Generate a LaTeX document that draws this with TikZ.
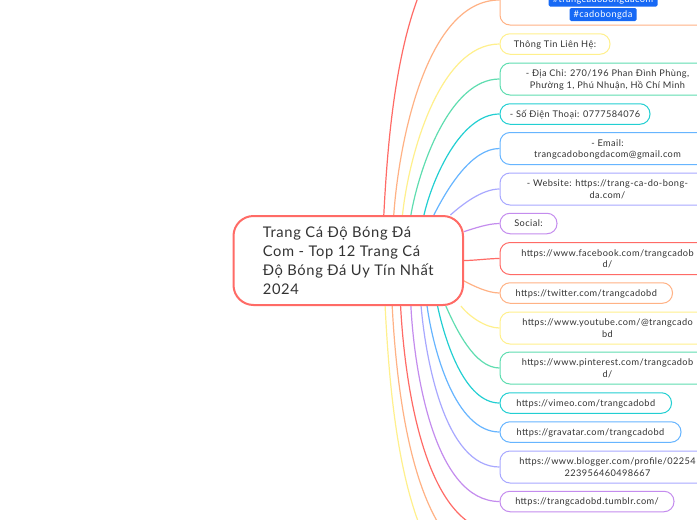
\documentclass[tikz,border=0pt]{standalone}
\usepackage{fontspec}
\setmainfont[LetterSpace=4.5]{Lato}
\usetikzlibrary{backgrounds}
\definecolor{mapred}{HTML}{FF6B66}
\definecolor{maporange}{HTML}{FFB285}
\definecolor{mapyellow}{HTML}{FFF08C}
\definecolor{mapgreen}{HTML}{5FDDB0}
\definecolor{mapteal}{HTML}{22CFD2}
\definecolor{mapblue}{HTML}{66B5FF}
\definecolor{mapviolet}{HTML}{A8A8FF}
\definecolor{mappurple}{HTML}{C48CEE}
\definecolor{tagblue}{HTML}{1769F5}
\definecolor{maptext}{HTML}{333333}
\tikzset{
  topicbox/.style={draw, anchor=west, fill=white, rounded corners=10pt, line width=1pt, align=center, inner sep=0pt, minimum height=20.5pt, text depth=0pt, text=maptext, font=\fontsize{9.2pt}{11.4pt}\selectfont},
  widebox/.style={topicbox, minimum width=215pt, minimum height=32pt},
  tagbox/.style={fill=tagblue, text=white, rounded corners=1.5pt, inner sep=0pt, minimum height=13pt, font=\fontsize{9.2pt}{11pt}\selectfont},
  branch/.style={line width=1.2pt}
}
\begin{document}
\begin{tikzpicture}[x=1pt, y=-1pt]
    \clip (0,0) rectangle (697,520);
    \node[draw=mapred, fill=white, rounded corners=20pt, line width=2pt, minimum width=229.5pt, minimum height=89pt, inner sep=0pt, text depth=0pt, text=maptext, align=left, font=\fontsize{14.7pt}{19pt}\selectfont] (root) at (348.25,260.5) {Trang Cá Độ Bóng Đá\\Com - Top 12 Trang Cá\\Độ Bóng Đá Uy Tín Nhất\\2024};
    \node[widebox, draw=maporange, minimum height=50pt] (hashbox) at (499.5,0) {};
    \node[tagbox, minimum width=109pt] (tag1) at (603,0) {\#trangcadobongdacom};
    \node[tagbox, minimum width=67pt] (tag2) at (603,14.5) {\#cadobongda};
    \node[topicbox, draw=mapyellow, minimum width=110pt] (info) at (499.5,44) {Thông Tin Liên Hệ:};
    \node[widebox, draw=mapgreen] (addr) at (499.5,79) {- Địa Chỉ: 270/196 Phan Đình Phùng,\\Phường 1, Phú Nhuận, Hồ Chí Minh};
    \node[topicbox, draw=mapteal, minimum width=150pt] (phone) at (499.5,114) {- Số Điện Thoại: 0777584076};
    \node[widebox, draw=mapblue] (mail) at (499.5,148.5) {- Email:\\trangcadobongdacom@gmail.com};
    \node[widebox, draw=mapviolet] (web) at (499.5,189) {- Website: https://trang-ca-do-bong-\\da.com/};
    \node[topicbox, draw=mappurple, minimum width=57pt] (social) at (499.5,223.5) {Social:};
    \node[widebox, draw=mapred] (fb) at (499.5,258.5) {https://www.facebook.com/trangcadob\\d/};
    \node[topicbox, draw=maporange, minimum width=172.5pt] (tw) at (499.5,293) {https://twitter.com/trangcadobd};
    \node[widebox, draw=mapyellow] (yt) at (499.5,328) {https://www.youtube.com/@trangcado\\bd};
    \node[widebox, draw=mapgreen] (pin) at (499.5,368) {https://www.pinterest.com/trangcadob\\d/};
    \node[topicbox, draw=mapteal, minimum width=171.5pt] (vim) at (499.5,403) {https://vimeo.com/trangcadobd};
    \node[topicbox, draw=mapblue, minimum width=181pt] (grav) at (499.5,432) {https://gravatar.com/trangcadobd};
    \node[widebox, draw=mapviolet] (blog) at (499.5,467) {https://www.blogger.com/profile/02254\\223956460498667};
    \node[topicbox, draw=mappurple, minimum width=174pt] (tum) at (499.5,501.5) {https://trangcadobd.tumblr.com/};
    \coordinate (offtop) at (499.5,-80);
    \coordinate (offred) at (499.5,532);
    \coordinate (offorange) at (499.5,565);
    \coordinate (offyellow) at (499.5,600);
    \begin{scope}[on background layer]
    \fill[white] (0,0) rectangle (697,520);
    \foreach \ang/\bend/\to/\col in {52/87/offtop/mapred, 45.5/86/hashbox.west/maporange, 40.2/84/info.west/mapyellow, 36.2/80/addr.west/mapgreen, 31.8/77/phone.west/mapteal, 28.9/63/mail.west/mapblue, 24.7/42/web.west/mapviolet, 14.4/18/social.west/mappurple, 0/0/fb.west/mapred, -10.6/-28/tw.west/maporange, -22.6/-52/yt.west/mapyellow, -25.2/-66/pin.west/mapgreen, -27.4/-78/vim.west/mapteal, -30.1/-82/grav.west/mapblue, -32.9/-85/blog.west/mapviolet, -36.7/-87/tum.west/mappurple, -41.2/-87/offred/mapred, -46.1/-87/offorange/maporange, -51.2/-87/offyellow/mapyellow}
        \draw[branch, \col] (root.\ang) to[out=\bend, in=180, looseness=0.78] (\to);
    \end{scope}
\end{tikzpicture}
\end{document}
